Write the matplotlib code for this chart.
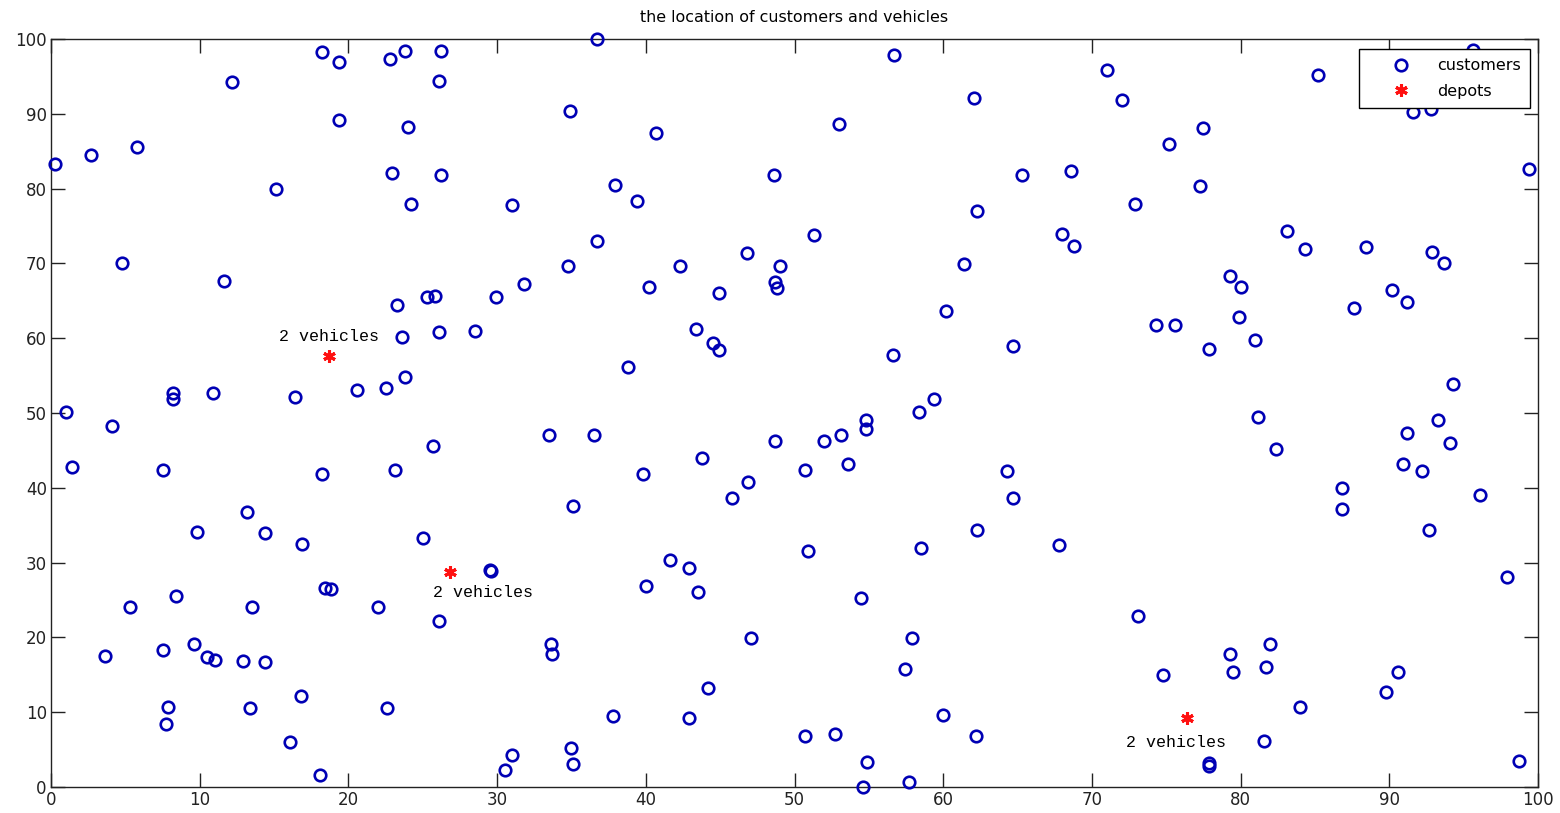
import matplotlib
matplotlib.use("Agg")
import matplotlib.pyplot as plt

# customer coordinates (x, y)
cust_x = [0.3, 2.7, 5.8, 4.8, 12.2, 11.6, 15.1, 18.2, 19.4, 19.4, 22.8, 23.8, 22.9, 24.0, 24.2,
          26.2, 26.1, 26.2, 34.9, 36.7, 31.0, 31.8, 29.9, 37.9, 39.4, 40.7, 34.8, 36.7, 40.2, 42.3,
          46.8, 44.9, 48.6, 51.3, 49.0, 48.7, 48.8, 52.96, 56.7, 62.1, 62.3, 65.3, 61.4, 60.2, 71.0,
          72.0, 68.6, 68.8, 68.0, 72.9, 75.2, 77.5, 77.3, 85.2, 83.1, 84.3, 88.4, 91.6, 92.8, 95.6,
          99.4, 90.2, 91.2, 87.6, 92.9, 93.7, 79.3, 80.0, 79.9, 81.0, 74.3, 75.6, 77.9, 64.7, 56.6,
          1.0, 4.1, 1.4, 8.2, 8.2, 10.9, 7.5, 16.4, 18.2, 20.6, 22.5, 23.8, 23.6, 23.3, 25.3,
          25.8, 26.1, 28.5, 23.1, 25.7, 38.8, 44.5, 44.9, 43.4, 33.5, 36.5, 35.1, 39.8, 43.8,
          48.7, 46.9, 45.8, 50.7, 52.0, 53.1, 53.6, 54.8, 54.8, 58.4, 59.4, 64.3, 64.7, 81.2,
          82.4, 86.8, 86.8, 91.2, 90.9, 92.2, 93.3, 94.1, 94.3, 96.1, 92.7, 97.9, 90.6, 89.8, 98.7,
          9.8, 13.2, 14.4, 16.9, 5.3, 8.4, 3.6, 7.5, 9.6, 10.5, 11.0, 12.9, 14.4, 13.5, 18.4,
          18.8, 22.0, 25.0, 7.9, 7.7, 13.4, 16.8, 16.1, 18.1, 22.6, 26.1, 29.5, 29.6, 33.6, 33.7,
          41.6, 42.9, 43.5, 40.0, 47.1, 44.2, 37.8, 42.9, 35.0, 35.1, 31.0, 30.5, 50.9, 54.5,
          57.9, 57.4, 58.5, 62.3, 67.8, 60.0, 62.2, 50.7, 52.7, 54.9, 54.6, 57.7, 73.1, 74.8,
          77.9, 77.9, 79.3, 79.5, 82.0, 81.7, 84.0, 81.6]
cust_y = [83.3, 84.5, 85.5, 70.1, 94.2, 67.6, 79.9, 98.3, 96.9, 89.2, 97.3, 98.4, 82.1, 88.2, 77.9,
          98.4, 94.4, 81.8, 90.4, 100.0, 77.8, 67.2, 65.5, 80.5, 78.4, 87.5, 69.6, 73.0, 66.9, 69.6,
          71.4, 66.0, 81.8, 73.8, 69.7, 67.5, 66.7, 88.6, 97.9, 92.1, 77.0, 81.8, 69.9, 63.7, 95.9,
          91.8, 82.3, 72.3, 73.9, 78.0, 85.9, 88.1, 80.3, 95.2, 74.4, 71.9, 72.2, 90.3, 90.6, 98.5,
          82.6, 66.4, 64.9, 64.0, 71.5, 70.0, 68.3, 66.8, 62.9, 59.8, 61.7, 61.7, 58.5, 59.0, 57.8,
          50.1, 48.2, 42.8, 52.7, 51.9, 52.7, 42.4, 52.1, 41.8, 53.1, 53.3, 54.8, 60.1, 64.5, 65.5,
          65.6, 60.8, 60.9, 42.4, 45.6, 56.1, 59.4, 58.4, 61.2, 47.1, 47.1, 37.6, 41.8, 44.0,
          46.2, 40.8, 38.7, 42.4, 46.2, 47.1, 43.2, 49.0, 47.9, 50.1, 51.9, 42.3, 38.6, 49.4,
          45.2, 40.0, 37.2, 47.3, 43.2, 42.3, 49.1, 46.0, 53.9, 39.1, 34.4, 28.1, 15.4, 12.7, 3.5,
          34.1, 36.8, 34.0, 32.5, 24.0, 25.6, 17.5, 18.3, 19.1, 17.4, 17.0, 16.9, 16.7, 24.1, 26.6,
          26.5, 24.1, 33.3, 10.7, 8.4, 10.6, 12.2, 6.0, 1.6, 10.6, 22.2, 29.0, 28.9, 19.1, 17.8,
          30.3, 29.3, 26.1, 26.9, 19.9, 13.3, 9.5, 9.2, 5.2, 3.1, 4.3, 2.3, 31.5, 25.2,
          19.9, 15.8, 32.0, 34.4, 32.3, 9.6, 6.8, 6.8, 7.1, 3.3, 0.0, 0.7, 22.8, 15.0,
          3.2, 2.8, 17.8, 15.4, 19.1, 16.1, 10.7, 6.2]

# depots
depot_x = [18.7, 26.8, 76.4]
depot_y = [57.6, 28.8, 9.2]
depot_labels = ["2 vehicles", "2 vehicles", "2 vehicles"]
label_x = [18.7, 25.7, 72.3]
label_y = [60.2, 26.0, 6.0]
label_ha = ["center", "left", "left"]

fig = plt.figure(figsize=(15.6, 8.13), dpi=100)
ax = fig.add_axes([0.0327, 0.032, 0.9532, 0.920])

ax.plot(cust_x, cust_y, 'o', color='#0000B4', markerfacecolor='none',
        markersize=8.3, markeredgewidth=1.9, label='customers', clip_on=False, zorder=3)
ax.plot(depot_x, depot_y, linestyle='none', marker=(6, 2, 0), color='#FF1010',
        markersize=9, markeredgewidth=2.2, label='depots', clip_on=False, zorder=3)

for lx, ly, t, ha in zip(label_x, label_y, depot_labels, label_ha):
    ax.text(lx, ly, t, ha=ha, va='center', fontsize=12, family='Liberation Mono')

ax.set_xlim(0, 100)
ax.set_ylim(0, 100)
ax.set_xticks(range(0, 101, 10))
ax.set_yticks(range(0, 101, 10))
ax.tick_params(direction='in', top=True, right=True, length=10, width=1,
               labelsize=12, pad=3, colors='#222222')
for s in ax.spines.values():
    s.set_linewidth(1.0)
    s.set_color('#222222')
ax.set_title("the location of customers and vehicles", fontsize=11.4, pad=12)

leg = ax.legend(loc='upper right', bbox_to_anchor=(0.9947, 0.987), fancybox=False,
                framealpha=1, edgecolor='black', fontsize=11.5, borderaxespad=0,
                handletextpad=0.2, labelspacing=0.65, borderpad=0.6, handlelength=4.1)
leg.get_frame().set_linewidth(1.0)
leg.set_zorder(5)

fig.savefig("out.png", dpi=100)
